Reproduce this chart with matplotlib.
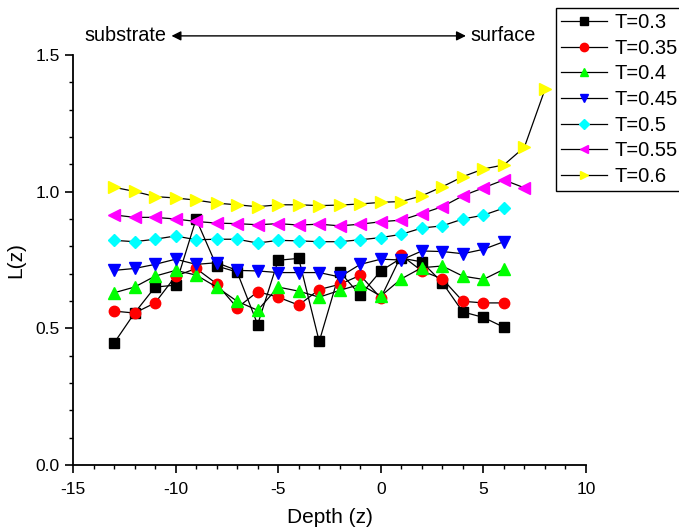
import numpy as np
import matplotlib
matplotlib.use("Agg")
import matplotlib.pyplot as plt
from matplotlib.ticker import MultipleLocator, FormatStrFormatter

plt.rcParams["font.family"] = ["Liberation Sans", "DejaVu Sans"]
plt.rcParams["axes.unicode_minus"] = False

# depth positions
z_base = list(range(-13, 7))      # -13 .. 6
z_055 = list(range(-13, 8))       # -13 .. 7
z_060 = list(range(-13, 9))       # -13 .. 8

L_030 = [0.446, 0.556, 0.651, 0.658, 0.900, 0.728, 0.706, 0.514, 0.749, 0.756,
         0.452, 0.707, 0.621, 0.710, 0.757, 0.743, 0.667, 0.560, 0.540, 0.504]
L_035 = [0.563, 0.556, 0.593, 0.691, 0.719, 0.663, 0.575, 0.634, 0.614, 0.585,
         0.642, 0.661, 0.694, 0.611, 0.767, 0.710, 0.681, 0.599, 0.593, 0.593]
L_040 = [0.630, 0.651, 0.691, 0.712, 0.695, 0.651, 0.599, 0.566, 0.651, 0.636,
         0.614, 0.639, 0.661, 0.618, 0.681, 0.722, 0.728, 0.691, 0.679, 0.716]
L_045 = [0.712, 0.719, 0.734, 0.753, 0.734, 0.740, 0.712, 0.710, 0.704, 0.704,
         0.704, 0.688, 0.734, 0.753, 0.750, 0.783, 0.781, 0.773, 0.789, 0.817]
L_050 = [0.822, 0.817, 0.826, 0.838, 0.824, 0.826, 0.826, 0.812, 0.822, 0.820,
         0.817, 0.817, 0.824, 0.832, 0.844, 0.867, 0.875, 0.900, 0.914, 0.940]
L_055 = [0.915, 0.906, 0.906, 0.900, 0.891, 0.885, 0.883, 0.879, 0.883, 0.878,
         0.881, 0.875, 0.881, 0.890, 0.896, 0.920, 0.945, 0.985, 1.014, 1.043, 1.014]
L_060 = [1.016, 1.001, 0.982, 0.977, 0.969, 0.958, 0.952, 0.945, 0.952, 0.952,
         0.949, 0.951, 0.955, 0.961, 0.964, 0.985, 1.018, 1.055, 1.083, 1.098,
         1.163, 1.374]

series = [
    ("T=0.3", z_base, L_030, "s", "#000000", 6.5),
    ("T=0.35", z_base, L_035, "o", "#FF0000", 7.5),
    ("T=0.4", z_base, L_040, "^", "#00FF00", 8),
    ("T=0.45", z_base, L_045, "v", "#0000FF", 8),
    ("T=0.5", z_base, L_050, "D", "#00FFFF", 6.5),
    ("T=0.55", z_055, L_055, "<", "#FF00FF", 8),
    ("T=0.6", z_060, L_060, ">", "#FFFF00", 8),
]

fig = plt.figure(figsize=(6.79, 5.29), dpi=100)
ax = fig.add_axes([0.1075, 0.121, 0.7555, 0.775])

for label, z, L, mk, col, ms in series:
    ax.plot(z, L, color="black", lw=0.9, marker=mk, ms=ms,
            markerfacecolor=col, markeredgecolor=col, label=label)

ax.set_xlim(-15, 10)
ax.set_ylim(0, 1.5)
ax.xaxis.set_major_locator(MultipleLocator(5))
ax.xaxis.set_minor_locator(MultipleLocator(1))
ax.yaxis.set_major_locator(MultipleLocator(0.5))
ax.yaxis.set_minor_locator(MultipleLocator(0.1))
ax.yaxis.set_major_formatter(FormatStrFormatter("%.1f"))

for s in ["top", "right"]:
    ax.spines[s].set_visible(False)
for s in ["left", "bottom"]:
    ax.spines[s].set_linewidth(1.3)
ax.tick_params(which="major", direction="out", length=6, width=1.2, labelsize=12.5)
ax.tick_params(axis="x", which="major", pad=6)
ax.tick_params(which="minor", direction="out", length=3, width=1.0)

ax.set_xlabel("Depth (z)", fontsize=15, labelpad=8)
ax.set_ylabel("L(z)", fontsize=15, labelpad=7)

# substrate <-> surface arrow above the plot
ax.annotate("", xy=(-10.2, 1.57), xytext=(4.15, 1.57), xycoords="data",
            arrowprops=dict(arrowstyle="<|-|>", color="black", lw=1,
                            mutation_scale=14, shrinkA=0, shrinkB=0),
            annotation_clip=False)
ax.text(-10.45, 1.57, "substrate", ha="right", va="center", fontsize=14.3)
ax.text(4.35, 1.57, "surface", ha="left", va="center", fontsize=14.3)

leg = ax.legend(loc="upper left", bbox_to_anchor=(0.819, 0.985),
                bbox_transform=fig.transFigure, fontsize=14.5, markerscale=0.8,
                handlelength=2.3, handletextpad=0.35, labelspacing=0.33,
                borderpad=0.25, borderaxespad=0, fancybox=False, framealpha=1)
leg.get_frame().set_edgecolor("black")
leg.get_frame().set_linewidth(1.0)

fig.savefig("out.png", dpi=100)
